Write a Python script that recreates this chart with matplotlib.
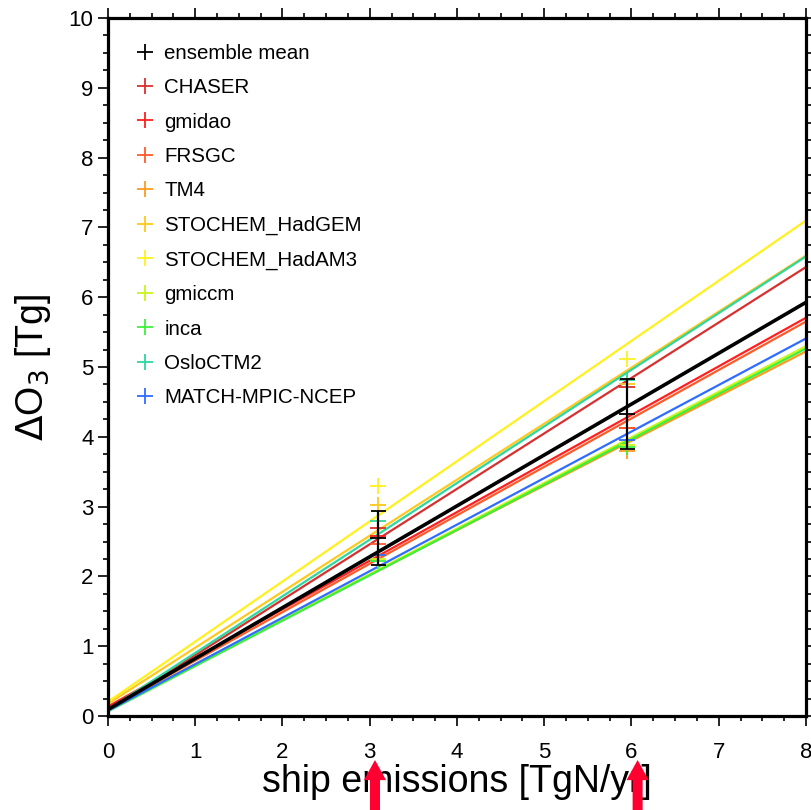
import numpy as np
import matplotlib
matplotlib.use("Agg")
import matplotlib.pyplot as plt
from matplotlib.lines import Line2D
from matplotlib.transforms import blended_transform_factory
from matplotlib.ticker import MultipleLocator

# ---------------- data ----------------
emis_x = [3.1, 5.95]  # ship emissions [TgN/yr]

models = ["CHASER", "gmidao", "FRSGC", "TM4", "STOCHEM_HadGEM",
          "STOCHEM_HadAM3", "gmiccm", "inca", "OsloCTM2", "MATCH-MPIC-NCEP"]
model_colors = ["#d8302f", "#ff1f1f", "#ff5a2a", "#ff9a22", "#ffc81e",
                "#fff01e", "#c8f51e", "#3cf03c", "#2ed6a0", "#2f6cff"]

chaser = [2.70, 4.72]
gmidao = [2.58, 4.13]
frsgc = [2.46, 4.12]
tm4 = [2.30, 3.80]
stochem_hadgem = [3.03, 4.76]
stochem_hadam3 = [3.30, 5.11]
gmiccm = [2.25, 3.88]
inca = [2.22, 3.86]
osloctm2 = [2.80, 4.82]
match = [2.30, 3.96]
model_values = [chaser, gmidao, frsgc, tm4, stochem_hadgem, stochem_hadam3,
                gmiccm, inca, osloctm2, match]

ens_mean = [2.55, 4.33]
ens_err = [0.39, 0.50]

x_ticks = [0, 1, 2, 3, 4, 5, 6, 7, 8]
y_ticks = [0, 1, 2, 3, 4, 5, 6, 7, 8, 9, 10]
arrow_x = [3.06, 6.07]

font = "Liberation Sans"

fig = plt.figure(figsize=(8.12, 8.10), dpi=100)
ax = fig.add_axes([108 / 812, 1 - 716 / 810, 698 / 812, 698 / 810])

xline = np.array([0.0, 8.0])


def fit_line(vals):
    xs = np.array([0.0] + list(emis_x))
    ys = np.array([0.0] + list(vals))
    b, a = np.polyfit(xs, ys, 1)
    return a + b * xline


handles = []
for name, col, vals in zip(models, model_colors, model_values):
    ax.plot(xline, fit_line(vals), color=col, lw=1.6, zorder=2)
    h, = ax.plot(emis_x, vals, ls="none", marker="+", ms=11, mew=1.3,
                 color=col, label=name, zorder=3)
    handles.append(h)

ax.plot(xline, fit_line(ens_mean), color="black", lw=2.6, zorder=4)
ax.errorbar(emis_x, ens_mean, yerr=ens_err, fmt="+", color="black",
            ms=11, mew=1.3, elinewidth=1.6, capsize=5.4, capthick=1.2,
            zorder=5)
ens_handle = Line2D([], [], ls="none", marker="+", ms=11, mew=1.3, color="black")

ax.set_xlim(0, 8)
ax.set_ylim(0, 10)
ax.set_xticks(x_ticks)
ax.set_yticks(y_ticks)
ax.xaxis.set_minor_locator(MultipleLocator(0.25))
ax.yaxis.set_minor_locator(MultipleLocator(0.25))
for s in ax.spines.values():
    s.set_linewidth(2.3)
ax.tick_params(which="both", direction="out", top=True, right=True, width=1.2)
ax.tick_params(which="major", length=7.5)
ax.tick_params(which="minor", length=3.6)
ax.tick_params(axis="x", which="major", pad=11, labelsize=16)
ax.tick_params(axis="y", which="major", pad=3, labelsize=16)
for lab in ax.get_xticklabels() + ax.get_yticklabels():
    lab.set_fontfamily(font)

ax.set_xlabel("ship emissions [TgN/yr]", fontsize=27, fontfamily=font, labelpad=1)
ax.set_ylabel(r"$\Delta$O$_3$ [Tg]", fontsize=27, fontfamily=font, labelpad=11)

leg = ax.legend([ens_handle] + handles, ["ensemble mean"] + models,
                loc="upper left", bbox_to_anchor=(0.0387, 0.963),
                frameon=False, borderaxespad=0, borderpad=0,
                handlelength=1.0, handletextpad=0.42, labelspacing=0.75,
                prop={"family": font, "size": 14.8}, numpoints=1)

# red arrows
trans = blended_transform_factory(ax.transData, fig.transFigure)
for xa in arrow_x:
    ax.annotate("", xy=(xa, (810 - 760) / 810), xycoords=trans,
                xytext=(xa, -0.02), textcoords=trans,
                arrowprops=dict(arrowstyle="simple,head_length=1.45,head_width=1.6,tail_width=0.72",
                                color="#ff0030", shrinkA=0, shrinkB=0, lw=0),
                annotation_clip=False, zorder=10)

fig.savefig("out.png", dpi=100)
